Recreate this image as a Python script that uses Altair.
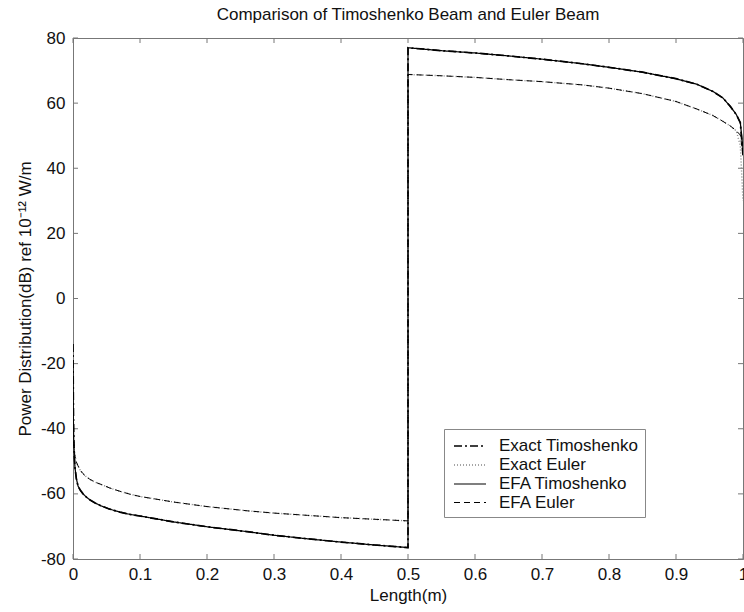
import altair as alt
import pandas as pd

# ---- data ----
x_left = [0, 0.0005, 0.001, 0.002, 0.003, 0.005, 0.0075, 0.011, 0.015, 0.02, 0.025, 0.033, 0.042, 0.055, 0.07, 0.085,
          0.1, 0.15, 0.2, 0.26, 0.3, 0.35, 0.4, 0.45, 0.5]
x_right = [0.5, 0.55, 0.6, 0.65, 0.7, 0.76, 0.8, 0.85, 0.9, 0.931, 0.955, 0.97, 0.981, 0.99, 0.996, 1.0]

efa_tim_left = [-21, -36, -43, -49, -52, -55.3, -57.6, -58.9, -60.0, -61.0, -61.8, -62.8, -63.7, -64.7, -65.6, -66.3,
                -66.8, -68.6, -70.1, -71.6, -72.7, -73.8, -74.8, -75.7, -76.5]
efa_tim_right = [77.0, 76.1, 75.4, 74.5, 73.5, 72.1, 71.0, 69.5, 67.5, 65.8, 63.6, 61.6, 59.0, 56.5, 54.0, 46.0]

efa_eul_left = [-38, -42, -44.5, -47, -48.5, -50.2, -51.4, -52.8, -53.8, -54.8, -55.5, -56.4, -57.1, -58.2, -59.2, -60.1,
                -60.8, -62.5, -63.9, -65.2, -65.9, -66.6, -67.3, -67.8, -68.3]
efa_eul_right = [68.8, 68.4, 67.9, 67.2, 66.6, 65.6, 64.6, 62.9, 60.5, 58.2, 56.2, 54.4, 53.0, 51.5, 50.2, 44.0]

exact_tim_left = [-14, -32, -41, -48.5, -52, -55.3, -57.6, -58.9, -60.0, -61.0, -61.8, -62.8, -63.7, -64.7, -65.6, -66.3,
                  -66.8, -68.6, -70.1, -71.6, -72.7, -73.8, -74.8, -75.7, -76.5]
exact_tim_right = [77.0, 76.1, 75.4, 74.5, 73.5, 72.1, 71.0, 69.5, 67.5, 65.8, 63.6, 61.6, 59.0, 56.5, 54.0, 44.0]

exact_eul_left = [-38, -42, -44.5, -47, -48.5, -50.2, -51.4, -52.8, -53.8, -54.8, -55.5, -56.4, -57.1, -58.2, -59.2, -60.1,
                  -60.8, -62.5, -63.9, -65.2, -65.9, -66.6, -67.3, -67.8, -68.3]
exact_eul_right = [68.8, 68.4, 67.9, 67.2, 66.6, 65.6, 64.6, 62.9, 60.5, 58.2, 56.2, 54.4, 53.0, 51.5, 47.0, 30.0]

series_names = ["Exact Timoshenko", "Exact Euler", "EFA Timoshenko", "EFA Euler"]
x_ticks = [0, 0.1, 0.2, 0.3, 0.4, 0.5, 0.6, 0.7, 0.8, 0.9, 1]
y_ticks = [-80, -60, -40, -20, 0, 20, 40, 60, 80]

# ---- build table ----
xs = x_left + x_right
series_values = {
    "Exact Timoshenko": exact_tim_left + exact_tim_right,
    "Exact Euler": exact_eul_left + exact_eul_right,
    "EFA Timoshenko": efa_tim_left + efa_tim_right,
    "EFA Euler": efa_eul_left + efa_eul_right,
}
rows = []
for name in series_names:
    for i, (xv, yv) in enumerate(zip(xs, series_values[name])):
        rows.append({"x": xv, "y": yv, "series": name, "idx": i})
df = pd.DataFrame(rows)

W, H = 670, 521
FONT = "Liberation Sans"
AX = "#777777"
FS = 17

xscale = alt.Scale(domain=[0, 1], nice=False, zero=False)
yscale = alt.Scale(domain=[-80, 80], nice=False, zero=False)

xaxis = alt.Axis(values=x_ticks, title="Length(m)", ticks=False, grid=False,
                 labelExpr="toString(datum.value)", labelPadding=7, titlePadding=5,
                 domainColor=AX, labelColor="#111", titleColor="#111",
                 labelFontSize=FS, titleFontSize=FS, labelFont=FONT, titleFont=FONT,
                 titleFontWeight="normal", labelFlush=False)
yaxis = alt.Axis(values=y_ticks, title="Power Distribution(dB) ref 10⁻¹² W/m", ticks=False, grid=False,
                 labelExpr="toString(datum.value)", labelPadding=8, titlePadding=6,
                 domainColor=AX, labelColor="#111", titleColor="#111",
                 labelFontSize=FS, titleFontSize=FS, labelFont=FONT, titleFont=FONT,
                 titleFontWeight="normal", labelFlush=False)

X = alt.X("x:Q", scale=xscale, axis=xaxis)
Y = alt.Y("y:Q", scale=yscale, axis=yaxis)

legend = alt.Legend(title=None, orient="none", legendX=371, legendY=391,
                    symbolType="M-1.6,0H1.6", symbolSize=400, symbolOffset=9,
                    symbolFillColor="transparent", labelFontSize=FS, labelFont=FONT,
                    labelColor="#111", labelOffset=18, rowPadding=0, padding=6,
                    strokeColor="#888888", fillColor="white", symbolStrokeColor="black")

lines = alt.Chart(df).mark_line(clip=True).encode(
    x=X, y=Y,
    strokeDash=alt.StrokeDash("series:N", scale=alt.Scale(
        domain=series_names, range=[[8, 3, 2, 3], [1, 2], [1, 0], [6, 4]]), legend=legend),
    strokeWidth=alt.StrokeWidth("series:N", scale=alt.Scale(
        domain=series_names, range=[1.7, 1.0, 1.7, 2.2]), legend=legend),
    color=alt.Color("series:N", scale=alt.Scale(
        domain=series_names, range=["black", "#888888", "black", "black"]), legend=legend),
    order=alt.Order("idx:Q"),
)

xt = pd.DataFrame({"x": x_ticks})
yt = pd.DataFrame({"y": y_ticks})
TL = 5
tick_style = dict(color=AX, strokeWidth=1)
xb = alt.Chart(xt).mark_rule(**tick_style).encode(x=X, y=alt.value(H), y2=alt.value(H - TL))
xtop = alt.Chart(xt).mark_rule(**tick_style).encode(x=X, y=alt.value(0), y2=alt.value(TL))
yl = alt.Chart(yt).mark_rule(**tick_style).encode(y=Y, x=alt.value(0), x2=alt.value(TL))
yr = alt.Chart(yt).mark_rule(**tick_style).encode(y=Y, x=alt.value(W), x2=alt.value(W - TL))

chart = alt.layer(xb, xtop, yl, yr, lines).properties(
    width=W, height=H,
    title=alt.Title("Comparison of Timoshenko Beam and Euler Beam", fontSize=FS, font=FONT,
                    fontWeight="normal", color="#111", offset=5, anchor="middle"),
    autosize=alt.AutoSizeParams(type="none"),
    padding={"left": 73, "top": 38, "right": 1, "bottom": 53},
    background="white",
).configure_view(stroke=AX, strokeWidth=1)

chart.save("out.html", embed_options={"renderer": "svg", "actions": False})
